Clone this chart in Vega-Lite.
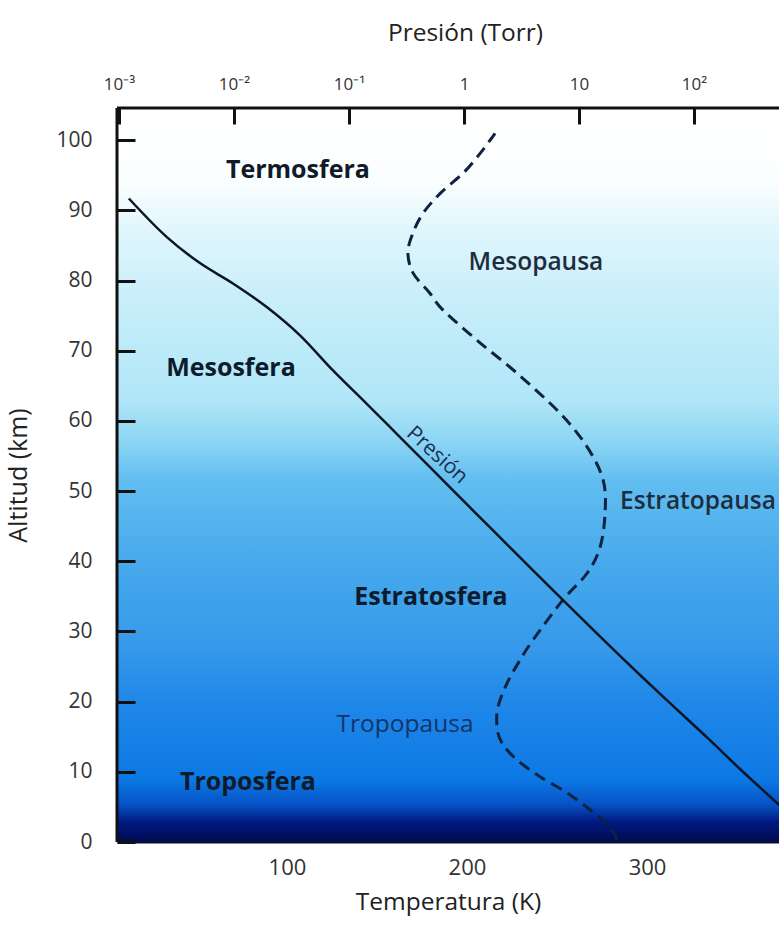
{
  "$schema": "https://vega.github.io/schema/vega-lite/v6.json",
  "width": 662,
  "height": 734,
  "autosize": {"type": "none"},
  "padding": {"left": 117, "top": 108, "right": 0, "bottom": 89},
  "background": "white",
  "view": {"stroke": null},
  "config": {"font": "Open Sans"},
  "datasets": {
    "temperatura": [
      {"T": 215.6, "alt": 101.0},
      {"T": 207.2, "alt": 98.1},
      {"T": 197.8, "alt": 95.3},
      {"T": 185.0, "alt": 92.4},
      {"T": 175.6, "alt": 89.6},
      {"T": 170.0, "alt": 86.8},
      {"T": 167.2, "alt": 84.0},
      {"T": 170.0, "alt": 81.1},
      {"T": 179.4, "alt": 78.2},
      {"T": 186.7, "alt": 75.8},
      {"T": 205.6, "alt": 71.5},
      {"T": 227.8, "alt": 66.8},
      {"T": 251.7, "alt": 61.1},
      {"T": 266.7, "alt": 56.3},
      {"T": 275.6, "alt": 51.6},
      {"T": 276.7, "alt": 46.9},
      {"T": 273.9, "alt": 42.0},
      {"T": 266.7, "alt": 38.3},
      {"T": 253.3, "alt": 34.5},
      {"T": 236.7, "alt": 28.8},
      {"T": 229.4, "alt": 25.9},
      {"T": 222.2, "alt": 22.6},
      {"T": 217.2, "alt": 19.2},
      {"T": 216.7, "alt": 16.4},
      {"T": 219.4, "alt": 14.1},
      {"T": 227.8, "alt": 11.7},
      {"T": 240.6, "alt": 9.3},
      {"T": 255.6, "alt": 7.0},
      {"T": 268.3, "alt": 4.6},
      {"T": 279.4, "alt": 2.1},
      {"T": 283.3, "alt": 0.3}
    ],
    "presion": [
      {"p": 0.00122, "alt": 91.7},
      {"p": 0.00261, "alt": 86.2},
      {"p": 0.00506, "alt": 82.5},
      {"p": 0.0098, "alt": 79.6},
      {"p": 0.0194, "alt": 76.2},
      {"p": 0.0375, "alt": 72.2},
      {"p": 0.0726, "alt": 67.2},
      {"p": 0.1435, "alt": 62.4},
      {"p": 0.2775, "alt": 57.7},
      {"p": 0.537, "alt": 53.0},
      {"p": 1.062, "alt": 48.1},
      {"p": 2.056, "alt": 43.4},
      {"p": 3.98, "alt": 38.7},
      {"p": 7.87, "alt": 33.9},
      {"p": 15.2, "alt": 29.3},
      {"p": 33.9, "alt": 23.8},
      {"p": 65.6, "alt": 19.4},
      {"p": 129.7, "alt": 14.9},
      {"p": 251, "alt": 10.4},
      {"p": 548, "alt": 5.3},
      {"p": 755, "alt": 3.2}
    ],
    "capas": [
      {"nombre": "Termosfera", "T": 106.1, "alt": 95.7},
      {"nombre": "Mesosfera", "T": 68.9, "alt": 67.5},
      {"nombre": "Estratosfera", "T": 180.0, "alt": 34.9},
      {"nombre": "Troposfera", "T": 78.3, "alt": 8.5}
    ],
    "pausas_altas": [
      {"nombre": "Mesopausa", "T": 238.3, "alt": 82.5},
      {"nombre": "Estratopausa", "T": 328.3, "alt": 48.4}
    ],
    "pausa_baja": [
      {"nombre": "Tropopausa", "T": 165.6, "alt": 16.7}
    ],
    "etiqueta_presion": [
      {"nombre": "Presión", "p": 0.582, "alt": 55.1}
    ],
    "marco": [
      {"borde": "marco"}
    ]
  },
  "layer": [
    {
      "layer": [
        {
          "data": {"name": "marco"},
          "mark": {
            "type": "rect",
            "stroke": null,
            "fill": {
              "gradient": "linear",
              "x1": 0, "y1": 0, "x2": 0, "y2": 1,
              "stops": [
                {"offset": 0, "color": "#ffffff"},
                {"offset": 0.1, "color": "#fbfeff"},
                {"offset": 0.166, "color": "#e0f6fc"},
                {"offset": 0.262, "color": "#c8eefa"},
                {"offset": 0.398, "color": "#b0e6f8"},
                {"offset": 0.452, "color": "#8ed6f4"},
                {"offset": 0.507, "color": "#62bef0"},
                {"offset": 0.616, "color": "#48aaec"},
                {"offset": 0.738, "color": "#3598ea"},
                {"offset": 0.807, "color": "#2088e8"},
                {"offset": 0.916, "color": "#0c78e4"},
                {"offset": 0.95, "color": "#0650c4"},
                {"offset": 0.973, "color": "#001a80"},
                {"offset": 1, "color": "#000a50"}
              ]
            }
          },
          "encoding": {
            "x": {"datum": 5.6, "type": "quantitative"},
            "x2": {"datum": 373.3},
            "y": {"datum": 0, "type": "quantitative"},
            "y2": {"datum": 104.6}
          }
        },
        {
          "data": {"name": "temperatura"},
          "mark": {"type": "line", "interpolate": "cardinal", "stroke": "#0e2340", "strokeWidth": 3, "strokeDash": [12, 7], "clip": true},
          "encoding": {
            "x": {
              "field": "T",
              "type": "quantitative",
              "scale": {"domain": [5.6, 373.3], "nice": false, "zero": false},
              "axis": {
                "orient": "bottom",
                "zindex": 1,
                "values": [100, 200, 300],
                "ticks": false,
                "grid": false,
                "domainColor": "#0a0f30",
                "domainWidth": 2,
                "labelFontSize": 22,
                "labelColor": "#333333",
                "labelPadding": 15,
                "labelFlush": false,
                "title": "Temperatura (K)",
                "titleFontSize": 24.5,
                "titleFontWeight": "normal",
                "titleColor": "#222222",
                "titlePadding": 12
              }
            },
            "y": {
              "field": "alt",
              "type": "quantitative",
              "scale": {"domain": [0, 104.6], "nice": false, "zero": false},
              "axis": {
                "zindex": 1,
                "values": [0, 5, 10, 15, 20, 25, 30, 35, 40, 45, 50, 55, 60, 65, 70, 75, 80, 85, 90, 95, 100],
                "labelExpr": "datum.value % 10 === 0 ? datum.label : ''",
                "grid": false,
                "domain": false,
                "offset": -18,
                "tickColor": "#111111",
                "tickWidth": 3,
                "tickSize": 18,
                "labelFontSize": 21,
                "labelColor": "#333333",
                "labelPadding": 25,
                "labelFlush": false,
                "labelOverlap": false,
                "title": "Altitud (km)",
                "titleFontSize": 25,
                "titleFontWeight": "normal",
                "titleColor": "#222222",
                "titlePadding": 24
              }
            },
            "order": {"field": "alt", "type": "quantitative"}
          }
        },
        {
          "data": {"name": "marco"},
          "mark": {"type": "rule", "stroke": "#111111", "strokeWidth": 3},
          "encoding": {
            "x": {"datum": 5.6, "type": "quantitative"},
            "y": {"datum": 0, "type": "quantitative"},
            "y2": {"datum": 104.6}
          }
        },
        {
          "data": {"name": "marco"},
          "mark": {"type": "rule", "stroke": "#111111", "strokeWidth": 3},
          "encoding": {
            "x": {"datum": 5.6, "type": "quantitative"},
            "x2": {"datum": 373.3},
            "y": {"datum": 104.6, "type": "quantitative"}
          }
        },
        {
          "data": {"name": "capas"},
          "mark": {"type": "text", "fontSize": 25, "fontWeight": "bold", "color": "#0d1b2a", "align": "center", "baseline": "middle"},
          "encoding": {
            "x": {"field": "T", "type": "quantitative"},
            "y": {"field": "alt", "type": "quantitative"},
            "text": {"field": "nombre"}
          }
        },
        {
          "data": {"name": "pausas_altas"},
          "mark": {"type": "text", "fontSize": 24.5, "fontWeight": 600, "color": "#1e2d3d", "align": "center", "baseline": "middle"},
          "encoding": {
            "x": {"field": "T", "type": "quantitative"},
            "y": {"field": "alt", "type": "quantitative"},
            "text": {"field": "nombre"}
          }
        },
        {
          "data": {"name": "pausa_baja"},
          "mark": {"type": "text", "fontSize": 24.5, "color": "#15336a", "align": "center", "baseline": "middle"},
          "encoding": {
            "x": {"field": "T", "type": "quantitative"},
            "y": {"field": "alt", "type": "quantitative"},
            "text": {"field": "nombre"}
          }
        }
      ]
    },
    {
      "layer": [
        {
          "data": {"name": "presion"},
          "mark": {"type": "line", "interpolate": "monotone", "stroke": "#0a1525", "strokeWidth": 2.5, "clip": true},
          "encoding": {
            "x": {
              "field": "p",
              "type": "quantitative",
              "scale": {"type": "log", "domain": [0.000962, 548], "nice": false},
              "axis": {
                "orient": "top",
                "zindex": 1,
                "values": [0.001, 0.01, 0.1, 1, 10, 100],
                "labelExpr": "datum.value < 0.005 ? '10⁻³' : datum.value < 0.05 ? '10⁻²' : datum.value < 0.5 ? '10⁻¹' : datum.value < 5 ? '1' : datum.value < 50 ? '10' : '10²'",
                "grid": false,
                "domain": false,
                "offset": -16,
                "tickColor": "#111111",
                "tickWidth": 3,
                "tickSize": 16,
                "labelFontSize": 17,
                "labelColor": "#333333",
                "labelPadding": 15,
                "labelFlush": false,
                "labelOverlap": false,
                "title": "Presión (Torr)",
                "titleFontSize": 24.5,
                "titleFontWeight": "normal",
                "titleColor": "#222222",
                "titlePadding": 30,
                "titleX": 348
              }
            },
            "y": {"field": "alt", "type": "quantitative"},
            "order": {"field": "alt", "type": "quantitative", "sort": "descending"}
          }
        },
        {
          "data": {"name": "etiqueta_presion"},
          "mark": {"type": "text", "fontSize": 21, "color": "#1b2f4f", "align": "center", "baseline": "middle", "angle": 42},
          "encoding": {
            "x": {"field": "p", "type": "quantitative"},
            "y": {"field": "alt", "type": "quantitative"},
            "text": {"field": "nombre"}
          }
        }
      ]
    }
  ],
  "resolve": {"scale": {"x": "independent"}, "axis": {"x": "independent"}}
}
